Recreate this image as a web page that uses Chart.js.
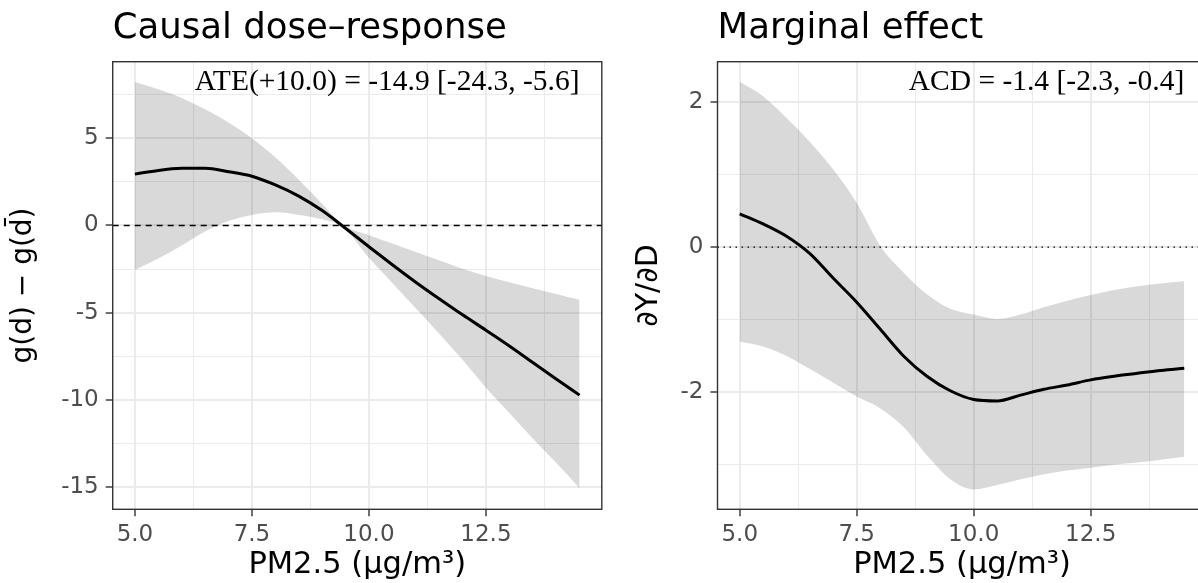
<!DOCTYPE html>
<html>
<head>
<meta charset="utf-8">
<script src="https://cdn.jsdelivr.net/npm/chart.js@4.4.1/dist/chart.umd.min.js"></script>
<style>
  html, body { margin: 0; padding: 0; background: #fff; overflow: hidden; width: 1198px; height: 583px; }
  canvas { position: absolute; top: 0; }
  #dose { left: 0; }
  #marg { left: 612px; }
</style>
</head>
<body>
<canvas id="dose" width="612" height="583"></canvas>
<canvas id="marg" width="620" height="583"></canvas>
<script>
// causal dose-response, g(d) - g(dbar), with pointwise band
const pmDose = [5, 5.5, 6, 6.5, 7, 7.5, 8, 8.5, 9, 9.45, 10, 10.5, 11, 11.5, 12, 12.5, 13, 13.5, 14, 14.5]
const doseFit = [2.94, 3.15, 3.27, 3.28, 3.08, 2.82, 2.32, 1.68, 0.85, -0.06, -1.22, -2.25, -3.25, -4.2, -5.12, -6.0, -6.9, -7.85, -8.8, -9.72]
const doseHi = [8.22, 7.8, 7.3, 6.65, 5.9, 5.0, 3.9, 2.62, 1.25, 0.02, -0.56, -1.04, -1.52, -2.0, -2.48, -2.9, -3.25, -3.6, -3.93, -4.26]
const doseLo = [-2.55, -1.9, -1.15, -0.35, 0.25, 0.6, 0.75, 0.6, 0.35, -0.12, -1.85, -3.3, -4.75, -6.2, -7.7, -9.3, -10.75, -12.2, -13.6, -15.05]

// marginal effect dY/dD
const pmMarg = [5, 5.5, 6, 6.5, 7, 7.5, 8, 8.5, 9, 9.5, 10, 10.5, 11, 11.5, 12, 12.5, 13, 13.5, 14, 14.5]
const margFit = [0.46, 0.32, 0.15, -0.09, -0.43, -0.76, -1.13, -1.5, -1.78, -1.98, -2.1, -2.12, -2.04, -1.96, -1.9, -1.83, -1.78, -1.74, -1.7, -1.67]
const margHi = [2.28, 2.08, 1.78, 1.45, 1.07, 0.61, 0.02, -0.35, -0.65, -0.85, -0.93, -0.99, -0.93, -0.83, -0.74, -0.66, -0.59, -0.54, -0.5, -0.47]
const margLo = [-1.3, -1.37, -1.5, -1.68, -1.87, -2.06, -2.22, -2.48, -2.87, -3.2, -3.34, -3.28, -3.2, -3.13, -3.08, -3.04, -3.0, -2.97, -2.93, -2.89]

// ticks ('' = minor break, grid line only)
const xTicks = [5, 6.25, 7.5, 8.75, 10, 11.25, 12.5, 13.75]
const xTickLabels = ['5.0', '', '7.5', '', '10.0', '', '12.5', '']
const doseTicks = [-15, -12.5, -10, -7.5, -5, -2.5, 0, 2.5, 5, 7.5]
const doseTickLabels = ['-15', '', '-10', '', '-5', '', '0', '', '5', '']
const margTicks = [-3, -2, -1, 0, 1, 2]
const margTickLabels = ['', '-2', '', '0', '', '2']

const ateText = 'ATE(+10.0) = -14.9 [-24.3, -5.6]'
const acdText = 'ACD = -1.4 [-2.3, -0.4]'

const SANS = 'DejaVu Sans'

// titles, annotation and panel border
const frame = {
  id: 'frame',
  afterDraw (chart, args, o) {
    const { ctx, chartArea: a, scales } = chart
    ctx.save()
    ctx.fillStyle = '#000'
    ctx.textBaseline = 'alphabetic'
    ctx.textAlign = 'left'
    ctx.font = '35.5px "' + SANS + '"'
    ctx.fillText(o.title, a.left, 38)
    ctx.textAlign = 'right'
    ctx.font = '29.5px "Liberation Serif"'
    ctx.fillText(o.note, scales.x.getPixelForValue(o.noteAt[0]), scales.y.getPixelForValue(o.noteAt[1]))
    ctx.strokeStyle = '#333'
    ctx.lineWidth = 1.4
    ctx.strokeRect(a.left, a.top, a.right - a.left, a.bottom - a.top)
    ctx.restore()
  }
}

function grid (labels) {
  return {
    color: '#ebebeb',
    lineWidth: c => labels[c.index] ? 2 : 1,
    tickColor: c => labels[c.index] ? '#333' : 'rgba(0,0,0,0)',
    tickWidth: 1.4,
    tickLength: 7
  }
}

function panel (id, p) {
  const pts = ys => p.x.map((x, i) => ({ x, y: ys[i] }))
  const band = { pointRadius: 0, borderWidth: 0, cubicInterpolationMode: 'monotone' }
  return new Chart(document.getElementById(id), {
    type: 'line',
    data: {
      datasets: [
        { data: pts(p.fit), borderColor: '#000', borderWidth: 3, pointRadius: 0, cubicInterpolationMode: 'monotone', fill: false, order: 0 },
        { data: [{ x: p.xMin, y: 0 }, { x: p.xMax, y: 0 }], borderColor: '#000', borderWidth: 1.4, borderDash: p.dash, pointRadius: 0, fill: false, order: 1 },
        { ...band, data: pts(p.hi), fill: '+1', backgroundColor: 'rgba(0,0,0,0.15)', order: 2 },
        { ...band, data: pts(p.lo), fill: false, order: 3 }
      ]
    },
    options: {
      responsive: false,
      animation: false,
      events: [],
      devicePixelRatio: 1,
      layout: { padding: { top: 61.7, right: p.padRight, bottom: 0, left: 0 } },
      plugins: {
        legend: { display: false },
        tooltip: { enabled: false },
        frame: { title: p.title, note: p.note, noteAt: p.noteAt }
      },
      scales: {
        x: {
          type: 'linear',
          min: p.xMin,
          max: p.xMax,
          afterBuildTicks: s => { s.ticks = xTicks.map(v => ({ value: v })) },
          afterFit: s => { s.height = 73.7 },
          border: { display: false },
          grid: grid(xTickLabels),
          ticks: {
            autoSkip: false, maxRotation: 0, padding: 5, color: '#4d4d4d',
            font: { family: SANS, size: 23 },
            callback: (v, i) => xTickLabels[i]
          },
          title: {
            display: true, text: 'PM2.5 (µg/m³)', color: '#000',
            font: { family: SANS, size: 30.5, lineHeight: 1.1 }, padding: { top: 0, bottom: 1 }
          }
        },
        y: {
          type: 'linear',
          min: p.yMin,
          max: p.yMax,
          afterBuildTicks: s => { s.ticks = p.yTicks.map(v => ({ value: v })) },
          afterFit: s => { s.width = p.yW },
          border: { display: false },
          grid: grid(p.yLabels),
          ticks: {
            autoSkip: false, padding: 7, color: '#4d4d4d',
            font: { family: SANS, size: 23 },
            callback: (v, i) => p.yLabels[i]
          },
          title: {
            display: true, text: p.yTitle, color: '#000',
            font: { family: SANS, size: p.yTitleSize, lineHeight: 1.2 }, padding: { top: p.yTitlePad, bottom: 0 }
          }
        }
      }
    },
    plugins: [frame]
  })
}

panel('dose', {
  x: pmDose, fit: doseFit, hi: doseHi, lo: doseLo,
  xMin: 4.525, xMax: 14.975, yMin: -16.26, yMax: 9.38,
  yTicks: doseTicks, yLabels: doseTickLabels,
  yTitle: 'g(d) \u2212 g(d\u0304)', yTitleSize: 28, yTitlePad: 6.5, yW: 112.7,
  padRight: 10.2, dash: [6, 5],
  title: 'Causal dose\u2013response', note: ateText, noteAt: [14.5, 7.745]
})

panel('marg', {
  x: pmMarg, fit: margFit, hi: margHi, lo: margLo,
  xMin: 4.525, xMax: 14.975, yMin: -3.614, yMax: 2.556,
  yTicks: margTicks, yLabels: margTickLabels,
  yTitle: '\u2202Y/\u2202D', yTitleSize: 30, yTitlePad: 19, yW: 105.5,
  padRight: 25.5, dash: [1.5, 4.5],
  title: 'Marginal effect', note: acdText, noteAt: [14.5, 2.17]
})
</script>
</body>
</html>
